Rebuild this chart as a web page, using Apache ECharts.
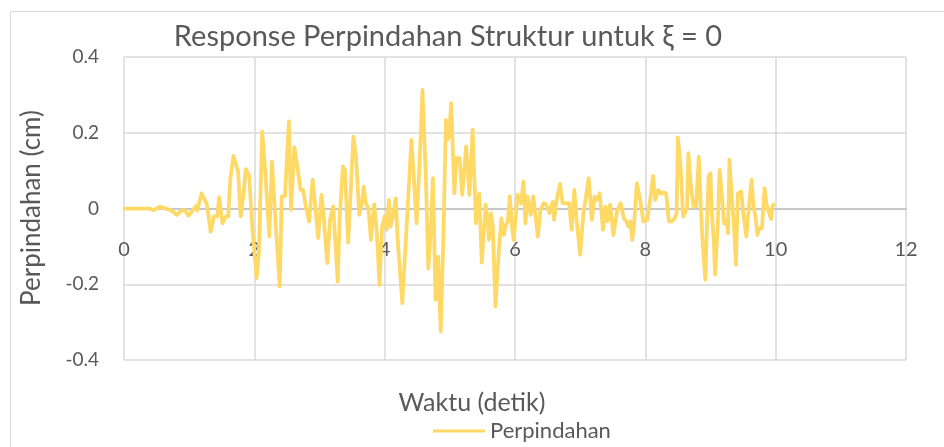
<!DOCTYPE html>
<html><head><meta charset="utf-8">
<script src="https://cdn.jsdelivr.net/npm/echarts@6/dist/echarts.min.js"></script>
<style>html,body{margin:0;padding:0;background:#fff}#c{width:944px;height:447px}</style>
</head><body><div id="c"></div>
<script>
const titleText = 'Response Perpindahan Struktur untuk ξ = 0';
const xName = 'Waktu (detik)';
const yName = 'Perpindahan (cm)';
const seriesName = 'Perpindahan';
const xTicks = [0, 2, 4, 6, 8, 10, 12];
const yTicks = [-0.4, -0.2, 0, 0.2, 0.4];
const time = [
 0,0.1,0.2,0.3,0.4,0.45,0.55,0.65,0.72,0.81,0.885,0.936,0.987,1.04,1.105,1.125,1.19,1.27,1.33,1.38,
 1.43,1.46,1.51,1.565,1.6,1.63,1.68,1.75,1.79,1.83,1.87,1.92,1.975,2.036,2.07,2.12,2.17,2.23,2.27,2.33,
 2.39,2.42,2.47,2.53,2.563,2.614,2.66,2.71,2.75,2.79,2.84,2.895,2.93,2.98,3.03,3.06,3.12,3.16,3.21,3.28,
 3.31,3.36,3.39,3.44,3.52,3.56,3.61,3.65,3.68,3.71,3.75,3.79,3.84,3.88,3.92,3.96,4.0,4.03,4.066,4.09,
 4.13,4.17,4.2,4.27,4.32,4.41,4.44,4.49,4.54,4.58,4.63,4.67,4.71,4.74,4.78,4.82,4.86,4.9,4.94,4.96,
 4.99,5.02,5.07,5.1,5.15,5.19,5.25,5.3,5.35,5.4,5.45,5.49,5.55,5.58,5.6,5.63,5.66,5.7,5.75,5.79,
 5.83,5.86,5.89,5.92,5.96,5.98,6.04,6.09,6.13,6.16,6.19,6.24,6.28,6.31,6.35,6.39,6.44,6.48,6.53,6.58,
 6.6,6.64,6.69,6.73,6.78,6.83,6.87,6.91,6.95,7.0,7.05,7.09,7.13,7.18,7.22,7.26,7.3,7.35,7.39,7.42,
 7.46,7.51,7.57,7.62,7.67,7.71,7.74,7.77,7.8,7.83,7.87,7.92,7.97,8.03,8.08,8.12,8.15,8.18,8.2,8.24,
 8.28,8.32,8.36,8.41,8.45,8.48,8.5,8.54,8.58,8.61,8.64,8.66,8.7,8.74,8.78,8.82,8.85,8.88,8.92,8.95,
 8.97,9.0,9.02,9.05,9.07,9.11,9.14,9.18,9.21,9.24,9.27,9.29,9.33,9.36,9.39,9.42,9.45,9.47,9.51,9.55,
 9.59,9.63,9.66,9.69,9.72,9.75,9.79,9.83,9.86,9.89,9.93,9.95,9.98
];
const displacement = [
 0,0,0,0,0,-0.005,0.005,-0.001,-0.004,-0.017,-0.005,-0.005,-0.019,-0.008,0.007,-0.005,0.040,0.012,-0.062,-0.021,
 -0.021,0.030,-0.039,-0.021,-0.021,0.076,0.139,0.098,-0.021,0.032,0.104,0.086,-0.065,-0.184,-0.118,0.203,0.093,-0.074,0.124,-0.048,
 -0.206,0.032,0.032,0.230,-0.004,0.162,0.111,0.049,0.049,0.005,-0.034,0.076,0.014,-0.078,0.036,-0.012,-0.144,-0.030,0.005,-0.193,
 -0.021,0.111,0.102,-0.090,0.190,0.137,-0.017,0.014,0.058,0.014,0.001,-0.083,0.011,-0.065,-0.202,-0.048,-0.021,-0.056,0.023,-0.048,
 -0.021,0.027,-0.083,-0.250,-0.100,0.181,0.102,-0.039,0.137,0.313,0.093,-0.158,-0.048,0.080,-0.241,-0.127,-0.325,-0.083,0.234,0.181,
 0.190,0.278,0.040,0.133,0.133,0.036,0.164,0.036,0.208,-0.039,0.040,-0.143,0.010,-0.030,-0.083,-0.012,-0.048,-0.259,-0.118,-0.026,
 -0.070,-0.043,-0.034,0.032,-0.056,-0.083,0.036,0.014,0.071,-0.039,0.032,-0.017,0.032,-0.012,-0.074,-0.004,0.014,0.010,-0.012,0.018,
 -0.030,0.023,0.065,0.014,0.014,0.014,-0.056,0.049,-0.039,-0.122,-0.012,0.032,0.080,-0.030,0.032,0.023,0.040,-0.056,0.005,-0.034,
 0.010,-0.070,-0.004,0.014,-0.026,-0.034,-0.048,-0.034,-0.083,-0.034,0.067,0.023,-0.034,-0.030,0.032,0.086,0.023,0.018,0.049,0.039,
 0.042,0.040,-0.034,-0.034,-0.026,-0.012,0.188,0.111,-0.021,-0.012,0.001,0.146,0.058,0.005,0.005,0.136,0.005,-0.092,-0.188,-0.021,
 0.085,0.093,-0.012,-0.083,-0.175,-0.048,0.102,0.023,-0.039,-0.030,-0.065,0.129,0.023,-0.048,-0.149,0.040,0.045,0.045,-0.021,-0.074,
 0.005,0.076,0.005,-0.021,-0.070,-0.052,-0.052,0.054,0.010,0.005,-0.028,0.005,0.014
];

const font = 'Lato';
const txt = '#595959';
const chart = echarts.init(document.getElementById('c'), null, {renderer: 'canvas'});
chart.setOption({
  animation: false,
  backgroundColor: '#fff',
  textStyle: {fontFamily: font},
  grid: {left: 124, top: 57, width: 782, height: 303, containLabel: false},
  graphic: [
    {type: 'rect', shape: {x: 10.5, y: 11.5, width: 960, height: 460}, style: {fill: 'none', stroke: '#d9d9d9', lineWidth: 1}, silent: true},
    {type: 'text', x: 448, y: 37, style: {text: titleText, font: '29px "' + font + '"', fill: txt, textAlign: 'center', textVerticalAlign: 'middle'}},
    {type: 'text', x: 472, y: 403, style: {text: xName, font: '25px "' + font + '"', fill: txt, textAlign: 'center', textVerticalAlign: 'middle'}},
    {type: 'text', x: 32, y: 208, rotation: Math.PI / 2, style: {text: yName, font: '26px "' + font + '"', fill: txt, textAlign: 'center', textVerticalAlign: 'middle'}}
  ],
  legend: {
    data: [seriesName], left: 433, top: 420, padding: 0, icon: 'rect', itemWidth: 52, itemHeight: 3, itemGap: 6,
    textStyle: {color: txt, fontSize: 22, fontFamily: font}
  },
  xAxis: {
    type: 'value', min: xTicks[0], max: xTicks[xTicks.length - 1], interval: 2,
    axisLine: {show: true, onZero: true, lineStyle: {color: '#bfbfbf', width: 1.5}},
    axisTick: {show: false},
    axisLabel: {color: txt, fontSize: 20, fontFamily: font, margin: -120},
    splitLine: {show: true, lineStyle: {color: '#d9d9d9', width: 1.5}}
  },
  yAxis: {
    type: 'value', min: yTicks[0], max: yTicks[yTicks.length - 1], interval: 0.2,
    axisLine: {show: false, onZero: false}, axisTick: {show: false},
    axisLabel: {color: txt, fontSize: 19, fontFamily: font, margin: 25},
    splitLine: {show: true, lineStyle: {color: '#d9d9d9', width: 1.5}}
  },
  series: [{
    name: seriesName, type: 'line', showSymbol: false, symbol: 'none',
    data: time.map((t, i) => [t, displacement[i]]),
    lineStyle: {color: '#FFD966', width: 3.75, join: 'round'},
    itemStyle: {color: '#FFD966'}
  }]
});
</script></body></html>
